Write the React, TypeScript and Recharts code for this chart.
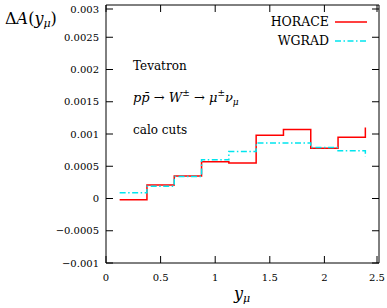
import { LineChart, Line, XAxis, YAxis, Legend } from 'recharts'

// bin edges (gnuplot "steps": last point only closes the final bin)
const yMu = [0.125, 0.375, 0.625, 0.875, 1.125, 1.375, 1.625, 1.875, 2.125, 2.375]
const horace = [-0.00002, 0.00021, 0.00035, 0.00057, 0.00055, 0.00098, 0.00107, 0.00078, 0.00095, 0.0011]
const wgrad = [0.00009, 0.00019, 0.00034, 0.0006, 0.00073, 0.00086, 0.00086, 0.00079, 0.00074, 0.00065]

const xTicks = [0, 0.5, 1, 1.5, 2, 2.5]
const yTicks = [-0.001, -0.0005, 0, 0.0005, 0.001, 0.0015, 0.002, 0.0025, 0.003]

const data = yMu.map((x, i) => ({ x, horace: horace[i], wgrad: wgrad[i] }))

const FONT = 'DejaVu Serif'
const TICK = 7

const fmt = (v: number) => String(v).replace('-', '\u2212')

const LeftTick = ({ x, y, payload }: any) => (
  <g>
    <line x1={x + 7} x2={x + 7 + TICK} y1={y} y2={y} stroke="#000" />
    <text x={x} y={y} dy={3.5} textAnchor="end" fontFamily={FONT} fontSize={10} fill="#000">
      {fmt(payload.value)}
    </text>
  </g>
)

const BottomTick = ({ x, y, payload }: any) => (
  <g>
    <line x1={x} x2={x} y1={y - 9} y2={y - 9 - TICK} stroke="#000" />
    <text x={x} y={y} dy={9} textAnchor="middle" fontFamily={FONT} fontSize={10} fill="#000">
      {String(payload.value)}
    </text>
  </g>
)

const RightTick = ({ x, y }: any) => <line x1={x} x2={x - TICK} y1={y} y2={y} stroke="#000" />
const TopTick = ({ x, y }: any) => <line x1={x} x2={x} y1={y} y2={y + TICK} stroke="#000" />

const LegendBox = ({ payload }: any) => (
  <div style={{ fontFamily: FONT, fontSize: 12.5, color: '#000' }}>
    {(payload || []).map((e: any) => (
      <div key={e.value} style={{ display: 'flex', alignItems: 'center', justifyContent: 'flex-end', height: 19 }}>
        <span style={{ marginRight: 6 }}>{e.value}</span>
        <svg width={32} height={4}>
          <line x1={0} x2={32} y1={2} y2={2} stroke={e.color} strokeWidth={1.5}
            strokeDasharray={e.payload?.strokeDasharray} />
        </svg>
      </div>
    ))}
  </div>
)

export default function App() {
  return (
    <div style={{ position: 'absolute', left: 0, top: 0, width: 387, height: 308, background: '#fff' }}>
      <LineChart width={387} height={308} data={data} margin={{ top: 4, right: 7, bottom: 15, left: 46 }}>
        <XAxis xAxisId="b" dataKey="x" type="number" domain={[0, 2.5]} ticks={xTicks}
          height={30} tickSize={0} tickMargin={9} tick={<BottomTick />} stroke="#000" />
        <XAxis xAxisId="t" orientation="top" dataKey="x" type="number" domain={[0, 2.5]} ticks={xTicks}
          height={1} tickSize={0} tickMargin={0} tick={<TopTick />} stroke="#000" />
        <YAxis yAxisId="l" type="number" domain={[-0.001, 0.003]} ticks={yTicks}
          width={60} tickSize={0} tickMargin={7} tick={<LeftTick />} stroke="#000" />
        <YAxis yAxisId="r" orientation="right" type="number" domain={[-0.001, 0.003]} ticks={yTicks}
          width={1} tickSize={0} tickMargin={0} tick={<RightTick />} stroke="#000" />
        <Legend layout="horizontal" verticalAlign="middle" align="center" content={<LegendBox />}
          wrapperStyle={{ top: 12, right: 20, left: 'auto', width: 'auto' }} />
        <Line xAxisId="b" yAxisId="l" name="HORACE" type="stepAfter" dataKey="horace"
          stroke="#ff0000" strokeWidth={1.5} dot={false} isAnimationActive={false} />
        <Line xAxisId="t" yAxisId="r" name="WGRAD" type="stepAfter" dataKey="wgrad"
          stroke="#00e5ee" strokeWidth={1.5} strokeDasharray="6 2.5 1.5 2.5" dot={false} isAnimationActive={false} />
      </LineChart>
      <svg width={387} height={308} style={{ position: 'absolute', left: 0, top: 0, pointerEvents: 'none' }}
        fontFamily={FONT} fill="#000">
        <text x={5} y={24} fontSize={16}>
          <tspan>Δ</tspan><tspan fontStyle="italic">A</tspan><tspan>(</tspan>
          <tspan fontStyle="italic">y</tspan><tspan fontStyle="italic" fontSize={11} dy={3}>μ</tspan>
          <tspan dy={-3}>)</tspan>
        </text>
        <text x={234} y={299} fontSize={16}>
          <tspan fontStyle="italic">y</tspan><tspan fontStyle="italic" fontSize={11} dy={3}>μ</tspan>
        </text>
        <text x={133} y={70} fontSize={12}>Tevatron</text>
        <text x={133} y={102} fontSize={13}>
          <tspan fontStyle="italic">pp̄</tspan><tspan> → </tspan><tspan fontStyle="italic">W</tspan>
          <tspan fontSize={9} dy={-6}>±</tspan><tspan dy={6}> → </tspan>
          <tspan fontStyle="italic">μ</tspan><tspan fontSize={9} dy={-6}>±</tspan>
          <tspan fontStyle="italic" dy={6}>ν</tspan><tspan fontStyle="italic" fontSize={9} dy={3}>μ</tspan>
        </text>
        <text x={133} y={134} fontSize={12}>calo cuts</text>
      </svg>
    </div>
  )
}
